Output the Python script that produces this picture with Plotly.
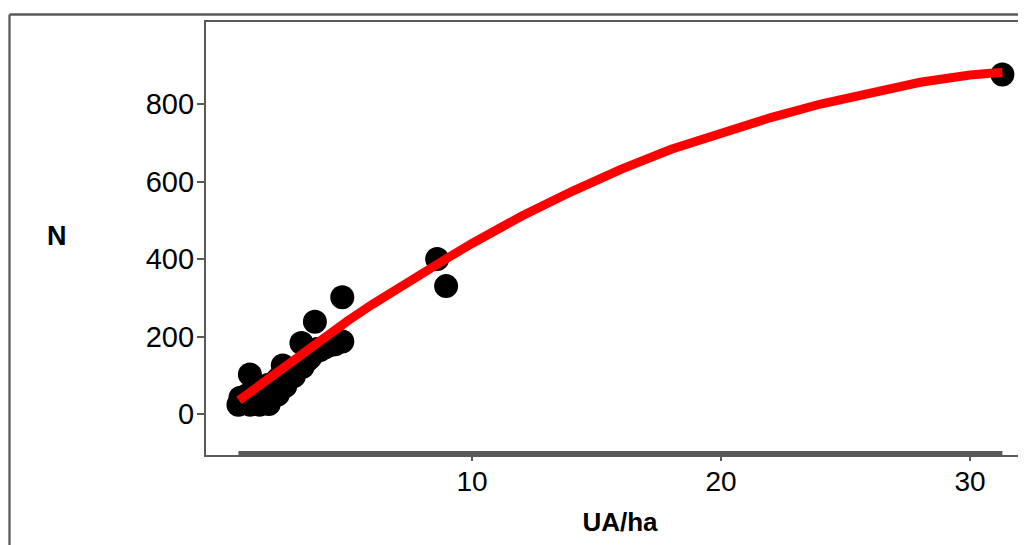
import plotly.graph_objects as go

# Observed points (UA/ha, N)
pts_x = [31.3, 8.6, 8.96, 4.79, 3.69, 4.79, 3.15, 1.08, 2.4,
         0.62, 0.7, 1.1, 1.45, 1.84,
         2.2, 2.5, 2.85, 3.2, 3.5, 3.78, 4.3,
         1.0, 1.4, 1.8, 2.2, 2.6, 3.0, 3.4, 3.9,
         1.3, 1.7, 2.0, 2.4, 2.8, 3.3, 3.6, 4.1, 4.5]
pts_y = [876, 400, 330, 301, 238, 187, 183, 102, 125,
         24, 42, 24, 24, 26,
         50, 72, 98, 122, 146, 168, 178,
         50, 60, 75, 90, 105, 120, 140, 165,
         40, 48, 65, 85, 110, 135, 155, 172, 180]

# Fitted curve
fit_x = [0.64, 1, 2, 3, 4, 5, 6, 7, 8, 9, 10, 12, 14, 16, 18, 20, 22, 24, 26, 28, 30, 31.3]
fit_y = [35, 52, 102, 150, 196, 240, 283, 324, 364, 402, 440, 511, 574, 632, 683, 727, 765, 800, 830, 856, 875, 882]

x_ticks = [10, 20, 30]
y_ticks = [0, 200, 400, 600, 800]

GRAY = "#5a5a5a"
FONT = "Liberation Sans, Arial, sans-serif"

# page has an 8px body margin: figure coords = page coords - 8
W, H = 1026, 537
L, T, B = 198, 14, 90          # plot area: x 198..1026, y 14..447 (figure px)
PW, PH = W - L, H - T - B


def px_x(p):  # figure px -> paper x
    return (p - L) / PW


def px_y(p):  # figure px -> paper y
    return (H - B - p) / PH


fig = go.Figure()
fig.add_trace(go.Scatter(x=pts_x, y=pts_y, mode="markers",
                         marker=dict(color="black", size=24, line=dict(width=0)),
                         showlegend=False, hoverinfo="x+y"))
fig.add_trace(go.Scatter(x=fit_x, y=fit_y, mode="lines",
                         line=dict(color="#ff0000", width=9),
                         showlegend=False, hoverinfo="x+y"))

# thick range bar along the x axis spanning the data
fig.add_shape(type="rect", xref="x", yref="paper",
              x0=min(pts_x), x1=max(pts_x), y0=-0.002, y1=0.009,
              fillcolor=GRAY, line=dict(width=0), layer="above")
# outer frame (left and top)
fig.add_shape(type="line", xref="paper", yref="paper",
              x0=px_x(1.5), x1=px_x(1.5), y0=px_y(6.5), y1=px_y(H + 5),
              line=dict(color=GRAY, width=2.3))
fig.add_shape(type="line", xref="paper", yref="paper",
              x0=px_x(1.5), x1=px_x(W + 20), y0=px_y(6.5), y1=px_y(6.5),
              line=dict(color=GRAY, width=2.3))

fig.add_annotation(text="<b>N</b>", xref="paper", yref="paper",
                   x=px_x(49), y=px_y(228),
                   showarrow=False, font=dict(family=FONT, size=27, color="black"),
                   xanchor="center", yanchor="middle")

fig.update_layout(
    width=W, height=H,
    margin=dict(l=L, r=0, t=T, b=B, pad=0),
    paper_bgcolor="white", plot_bgcolor="white",
    xaxis=dict(range=[-0.683, 32.57], tickvals=x_ticks, ticks="outside", ticklen=4,
               tickwidth=2, tickcolor=GRAY, showline=True, linecolor=GRAY, linewidth=2.3,
               mirror=True, showgrid=False, zeroline=False,
               tickfont=dict(family=FONT, size=28, color="black"),
               ticklabelstandoff=-4,
               title=dict(text="<b>UA/ha</b>", font=dict(family=FONT, size=26, color="black"),
                          standoff=17)),
    yaxis=dict(range=[-105.8, 1011.6], tickvals=y_ticks, ticks="outside", ticklen=7,
               tickwidth=2, tickcolor=GRAY, showline=True, linecolor=GRAY, linewidth=2.3,
               mirror=False, showgrid=False, zeroline=False,
               tickfont=dict(family=FONT, size=29, color="black"),
               ticklabelstandoff=-3),
)

fig.write_html("out.html")
